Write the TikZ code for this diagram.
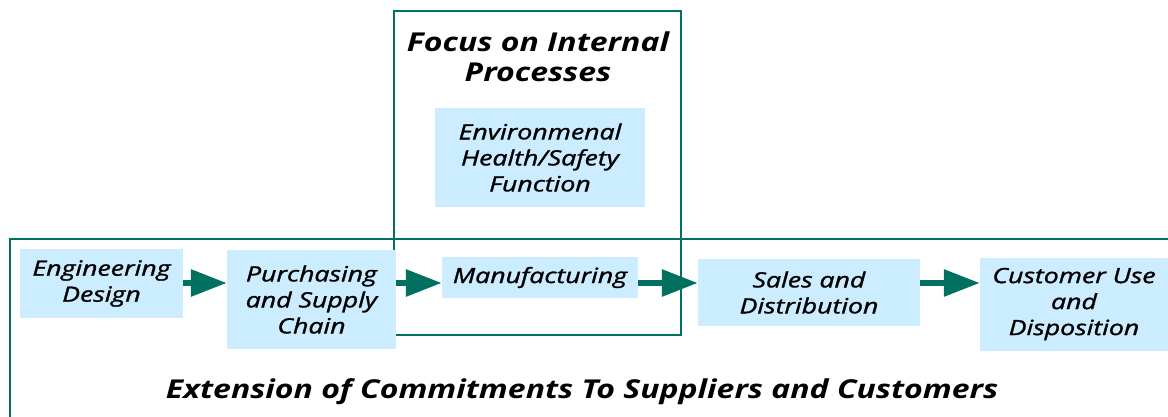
\documentclass[tikz,border=0pt]{standalone}
\usepackage{fontspec}
\setmainfont{Open Sans}[FakeStretch=1.23]
\newfontfamily\stagefont{Open Sans}[FakeStretch=1.27, FakeBold=1.3]
\usepackage{xcolor}
\usetikzlibrary{positioning,arrows.meta}

\definecolor{tealgreen}{RGB}{0,112,96}
\definecolor{boxblue}{RGB}{204,236,255}

\tikzset{
  stage/.style={fill=boxblue, align=center, inner sep=0pt,
    font=\stagefont\fontsize{21}{26}\selectfont\itshape},
  heading/.style={align=center, inner sep=0pt,
    font=\fontsize{26}{30}\selectfont\bfseries\itshape},
  flow/.style={draw=tealgreen, line width=6pt, -{Triangle[length=36pt,width=26pt]}},
  frame/.style={draw=tealgreen, line width=2pt},
}

\begin{document}
\begin{tikzpicture}[x=1pt,y=-1pt]
\useasboundingbox (0,0) rectangle (1168,417);
\clip (0,0) rectangle (1168,417);
% frames
\draw[frame] (10,239) rectangle (1190,440);
\draw[frame] (394,11) rectangle (681,335);
% stages
\node[stage, minimum width=163pt, minimum height=69pt] (eng) at (101.5,283.5) {Engineering\\Design};
\node[stage, minimum width=169pt, minimum height=99pt] (pur) at (311.5,299.5) {Purchasing\\and Supply\\Chain};
\node[stage, minimum width=196pt, minimum height=41pt] (man) at (540,277.5) {Manufacturing};
\node[stage, minimum width=222pt, minimum height=67pt] (sal) at (809,292.5) {Sales and\\Distribution};
\node[stage, minimum width=188pt, minimum height=93pt] (cus) at (1074,304) {Customer Use\\and\\Disposition};
\node[stage, minimum width=210pt, minimum height=99pt] (env) at (540,157.5) {Environmenal\\Health/Safety\\Function};
% headings
\node[heading] (focus) at (538,57) {Focus on Internal\\Processes};
\node[heading] (ext) at (582,392) {Extension of Commitments To Suppliers and Customers};
% arrows
\coordinate (lvl) at (0,283);
\draw[flow] (eng.east |- lvl) -- (pur.west |- lvl);
\draw[flow] (pur.east |- lvl) -- (man.west |- lvl);
\draw[flow] (man.east |- lvl) -- (sal.west |- lvl);
\draw[flow] (sal.east |- lvl) -- (cus.west |- lvl);
\end{tikzpicture}
\end{document}
